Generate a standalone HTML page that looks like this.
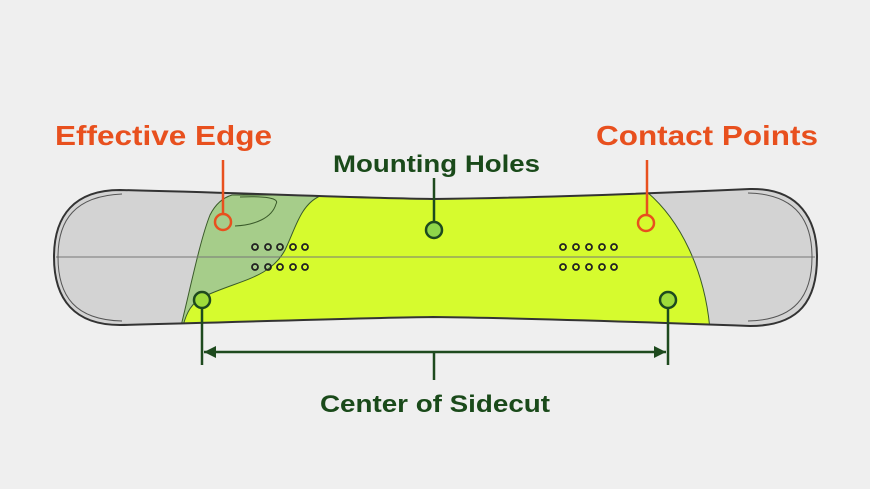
<!DOCTYPE html>
<html><head><meta charset="utf-8"><style>
html,body{margin:0;padding:0;background:#efefef;}
svg{display:block;}
text{font-family:"Liberation Sans",sans-serif;font-weight:bold;}
</style></head><body>
<svg width="870" height="489" viewBox="0 0 870 489" xmlns="http://www.w3.org/2000/svg">
<rect width="870" height="489" fill="#efefef"/>
<defs>
<clipPath id="board">
<path d="M120,190 C250,193 350,198 433,199 C520,198 640,194 750,189 C800,188 817,220 817,257 C817,300 800,326 750,326 C640,322 520,318 433,317 C350,318 250,322 120,325 C75,325 54,300 54,257 C54,215 75,190 120,190 Z"/>
</clipPath>
</defs>
<g clip-path="url(#board)">
<rect x="40" y="180" width="800" height="160" fill="#d3d3d3"/>
<!-- light green -->
<path d="M232,195 L330,195 L330,330 L180,330 C190,290 200,240 210,215 C215,205 222,198 232,195 Z" fill="#a6cd8a" stroke="#3a5a2a" stroke-width="1"/>
<!-- yellow -->
<path d="M320,196 L647,192 C680,220 705,270 710,330 L182,330 C186,312 192,302 205,296 C240,280 270,278 285,250 C295,230 300,205 320,196 Z" fill="#d6fb2e" stroke="#3a5a2a" stroke-width="1"/>
<path d="M240,197 C265,196 280,198 276,204 C272,218 255,225 235,226" fill="none" stroke="#3a5a2a" stroke-width="1"/>
</g>
<line x1="56" y1="257" x2="815" y2="257" stroke="#777" stroke-width="1"/>
<path d="M120,190 C250,193 350,198 433,199 C520,198 640,194 750,189 C800,188 817,220 817,257 C817,300 800,326 750,326 C640,322 520,318 433,317 C350,318 250,322 120,325 C75,325 54,300 54,257 C54,215 75,190 120,190 Z" fill="none" stroke="#333" stroke-width="2"/>
<path d="M122,194 C75,196 58,220 58,257 C58,296 75,320 122,321" fill="none" stroke="#555" stroke-width="1"/>
<path d="M748,193 C795,194 812,220 812,257 C812,296 795,320 748,321" fill="none" stroke="#555" stroke-width="1"/>
<g fill="none" stroke="#222" stroke-width="1.8">
<circle cx="255" cy="247" r="3"/><circle cx="268" cy="247" r="3"/><circle cx="280" cy="247" r="3"/><circle cx="293" cy="247" r="3"/><circle cx="305" cy="247" r="3"/>
<circle cx="255" cy="267" r="3"/><circle cx="268" cy="267" r="3"/><circle cx="280" cy="267" r="3"/><circle cx="293" cy="267" r="3"/><circle cx="305" cy="267" r="3"/>
<circle cx="563" cy="247" r="3"/><circle cx="576" cy="247" r="3"/><circle cx="589" cy="247" r="3"/><circle cx="602" cy="247" r="3"/><circle cx="614" cy="247" r="3"/>
<circle cx="563" cy="267" r="3"/><circle cx="576" cy="267" r="3"/><circle cx="589" cy="267" r="3"/><circle cx="602" cy="267" r="3"/><circle cx="614" cy="267" r="3"/>
</g>
<line x1="223" y1="160" x2="223" y2="214" stroke="#e8501e" stroke-width="2.5"/>
<circle cx="223" cy="222" r="8" fill="#a6cd8a" stroke="#e8501e" stroke-width="2.5"/>
<line x1="647" y1="160" x2="647" y2="215" stroke="#e8501e" stroke-width="2.5"/>
<circle cx="646" cy="223" r="8" fill="#d6fb2e" stroke="#e8501e" stroke-width="2.5"/>
<line x1="434" y1="178" x2="434" y2="222" stroke="#1e4a1e" stroke-width="2.5"/>
<circle cx="434" cy="230" r="8" fill="#8fd64a" stroke="#1e4a1e" stroke-width="2.5"/>
<line x1="202" y1="308" x2="202" y2="365" stroke="#1e4a1e" stroke-width="2.5"/>
<circle cx="202" cy="300" r="8" fill="#9fdc3a" stroke="#1e4a1e" stroke-width="2.5"/>
<line x1="668" y1="308" x2="668" y2="365" stroke="#1e4a1e" stroke-width="2.5"/>
<circle cx="668" cy="300" r="8" fill="#9fdc3a" stroke="#1e4a1e" stroke-width="2.5"/>
<line x1="204" y1="352" x2="666" y2="352" stroke="#1e4a1e" stroke-width="2.5"/>
<path d="M204,352 L216,346 L216,358 Z" fill="#1e4a1e"/>
<path d="M666,352 L654,346 L654,358 Z" fill="#1e4a1e"/>
<line x1="434" y1="352" x2="434" y2="380" stroke="#1e4a1e" stroke-width="2.5"/>
<text x="55" y="145" font-size="28" fill="#e8501e" textLength="217" lengthAdjust="spacingAndGlyphs">Effective Edge</text>
<text x="596" y="145" font-size="28" fill="#e8501e" textLength="222" lengthAdjust="spacingAndGlyphs">Contact Points</text>
<text x="333" y="172" font-size="24" fill="#1a4a1a" textLength="207" lengthAdjust="spacingAndGlyphs">Mounting Holes</text>
<text x="320" y="412" font-size="24" fill="#1a4a1a" textLength="230" lengthAdjust="spacingAndGlyphs">Center of Sidecut</text>
</svg>
</body></html>
